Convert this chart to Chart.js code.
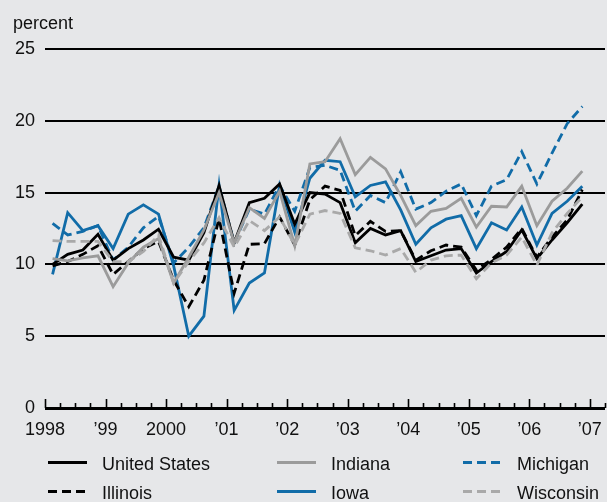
<!DOCTYPE html>
<html>
<head>
<meta charset="utf-8">
<script src="https://cdn.jsdelivr.net/npm/chart.js@4/dist/chart.umd.min.js"></script>
<style>
  html, body { margin: 0; padding: 0; background: #e6e7e9; overflow: hidden; }
  #wrap { width: 607px; height: 502px; }
</style>
</head>
<body>
<div id="wrap"><canvas id="chart" width="607" height="502"></canvas></div>
<script>
// quarterly rates, 1998 Q1 .. 2006 Q4
const startYear = 1998;
const yearLabels = ['1998', '\u201999', '2000', '\u201901', '\u201902', '\u201903', '\u201904', '\u201905', '\u201906', '\u201907'];
const yTicks = [0, 5, 10, 15, 20, 25];

const unitedStates = [10.0, 10.7, 11.0, 12.1, 10.3, 11.1, 11.7, 12.45, 10.5, 10.3, 12.2, 15.5,
  11.5, 14.3, 14.6, 15.6, 12.8, 15.0, 14.9, 14.3, 11.5, 12.5, 12.05, 12.35,
  10.2, 10.6, 11.0, 11.1, 9.4, 10.2, 10.9, 12.4, 10.4, 11.7, 12.9, 14.2];
const illinois = [9.9, 10.2, 10.7, 11.3, 9.3, 10.2, 11.1, 11.6, 8.9, 7.05, 8.9, 13.2,
  8.0, 11.4, 11.45, 13.3, 11.35, 14.5, 15.45, 15.15, 12.0, 13.0, 12.3, 12.35,
  10.3, 10.95, 11.35, 11.2, 9.6, 10.35, 11.2, 12.5, 10.5, 11.9, 13.1, 15.2];
const indiana = [10.4, 10.25, 10.45, 10.6, 8.45, 10.1, 11.2, 11.8, 8.7, 10.5, 12.4, 15.0,
  11.5, 13.95, 13.2, 15.1, 11.3, 17.0, 17.15, 18.75, 16.25, 17.45, 16.65, 14.8,
  12.7, 13.7, 13.9, 14.6, 12.6, 14.05, 14.0, 15.45, 12.7, 14.4, 15.3, 16.5];
const iowa = [9.3, 13.6, 12.35, 12.7, 11.1, 13.5, 14.15, 13.5, 9.9, 5.0, 6.4, 15.5,
  6.8, 8.7, 9.4, 15.5, 12.25, 16.0, 17.25, 17.15, 14.7, 15.5, 15.75, 13.8,
  11.4, 12.55, 13.15, 13.4, 11.1, 12.9, 12.4, 14.0, 11.35, 13.55, 14.4, 15.45];
const michigan = [12.85, 12.05, 12.3, 12.7, 10.3, 11.2, 12.55, 13.35, 10.1, 11.2, 12.55, 15.45,
  11.5, 13.85, 13.5, 15.5, 13.7, 16.75, 16.9, 16.55, 13.7, 14.8, 14.3, 16.45,
  13.85, 14.3, 15.1, 15.6, 13.4, 15.45, 15.9, 17.85, 15.6, 17.75, 19.8, 21.0];
const wisconsin = [11.65, 11.6, 11.6, 11.6, 10.2, 10.2, 10.9, 12.05, 8.7, 10.2, 11.5, 13.25,
  11.2, 13.05, 12.35, 13.3, 11.35, 13.5, 13.75, 13.55, 11.15, 10.95, 10.65, 11.1,
  9.45, 10.3, 10.6, 10.65, 9.0, 10.1, 10.65, 11.9, 9.95, 12.2, 13.55, 14.7];

const BLUE = '#116ca8';
const GRAY = '#9b9b9b';
const LIGHTGRAY = '#a9a9a9';
const FONT = '"Liberation Sans", Arial, Helvetica, sans-serif';

// each value sits in the middle of its quarter
const toPoints = arr => arr.map((v, i) => ({ x: startYear + (i + 0.5) / 4, y: v }));

function series(label, values, color, dashed) {
  return {
    label,
    data: toPoints(values),
    borderColor: color,
    backgroundColor: color,
    borderWidth: 2.8,
    borderDash: dashed ? [9, 5] : [],
    pointRadius: 0,
    tension: 0,
    fill: false
  };
}

// legend column order: US/Illinois, Indiana/Iowa, Michigan/Wisconsin
const datasets = [
  series('Wisconsin', wisconsin, LIGHTGRAY, true),
  series('Indiana', indiana, GRAY, false),
  series('Illinois', illinois, '#000', true),
  series('United States', unitedStates, '#000', false),
  series('Michigan', michigan, BLUE, true),
  series('Iowa', iowa, BLUE, false)
];
const legendGrid = [
  ['United States', 'Illinois'],
  ['Indiana', 'Iowa'],
  ['Michigan', 'Wisconsin']
];

const decorations = {
  id: 'decorations',
  afterDraw(chart) {
    const { ctx, chartArea, scales } = chart;
    const x = scales.x;
    ctx.save();

    // "percent" unit label over the y axis
    ctx.font = '18px ' + FONT;
    ctx.fillStyle = '#111';
    ctx.textAlign = 'left';
    ctx.textBaseline = 'alphabetic';
    ctx.fillText('percent', 13, chartArea.top - 20);

    // quarter ticks pointing up from the axis line
    ctx.strokeStyle = '#000';
    ctx.lineWidth = 1.6;
    for (let q = x.min; q <= x.max + 1e-9; q += 0.25) {
      const px = Math.round(x.getPixelForValue(q)) + 0.5;
      const major = Math.abs(q - Math.round(q)) < 1e-9;
      ctx.beginPath();
      ctx.moveTo(px, chartArea.bottom);
      ctx.lineTo(px, chartArea.bottom - (major ? 9 : 5));
      ctx.stroke();
    }

    // legend, three columns by two rows
    const colX = [48, 277, 463];
    const rowY = [462.5, 491.5];
    legendGrid.forEach((col, c) => {
      col.forEach((name, r) => {
        const ds = chart.data.datasets.find(d => d.label === name);
        ctx.strokeStyle = ds.borderColor;
        ctx.lineWidth = 3;
        ctx.setLineDash(ds.borderDash || []);
        ctx.beginPath();
        ctx.moveTo(colX[c], rowY[r]);
        ctx.lineTo(colX[c] + 39, rowY[r]);
        ctx.stroke();
        ctx.setLineDash([]);
        ctx.fillStyle = '#111';
        ctx.fillText(name, colX[c] + 54, rowY[r] + 7);
      });
    });
    ctx.restore();
  }
};

Chart.defaults.font.family = FONT;
Chart.defaults.font.size = 18;
Chart.defaults.color = '#111';

new Chart(document.getElementById('chart'), {
  type: 'line',
  data: { datasets },
  options: {
    responsive: false,
    animation: false,
    layout: { padding: { left: 0, top: 49, right: 2, bottom: 54 } },
    plugins: {
      legend: { display: false },
      tooltip: { enabled: false }
    },
    scales: {
      x: {
        type: 'linear',
        min: startYear,
        max: startYear + yearLabels.length - 0.75,
        afterBuildTicks: scale => {
          scale.ticks = yearLabels.map((_, i) => ({ value: startYear + i }));
        },
        afterFit: scale => { scale.height = 40; },
        grid: { display: false },
        border: { display: false },
        ticks: {
          autoSkip: false,
          maxRotation: 0,
          padding: 3,
          callback: v => yearLabels[Math.round(v) - startYear] ?? ''
        }
      },
      y: {
        min: 0,
        max: 25,
        afterBuildTicks: scale => {
          scale.ticks = yTicks.map(v => ({ value: v }));
        },
        afterFit: scale => { scale.width = 45; },
        border: { display: false },
        grid: {
          color: '#000',
          lineWidth: ctx => (ctx.tick && ctx.tick.value === 0 ? 3 : 2),
          drawTicks: false
        },
        ticks: { padding: 10 }
      }
    }
  },
  plugins: [decorations]
});
</script>
</body>
</html>
